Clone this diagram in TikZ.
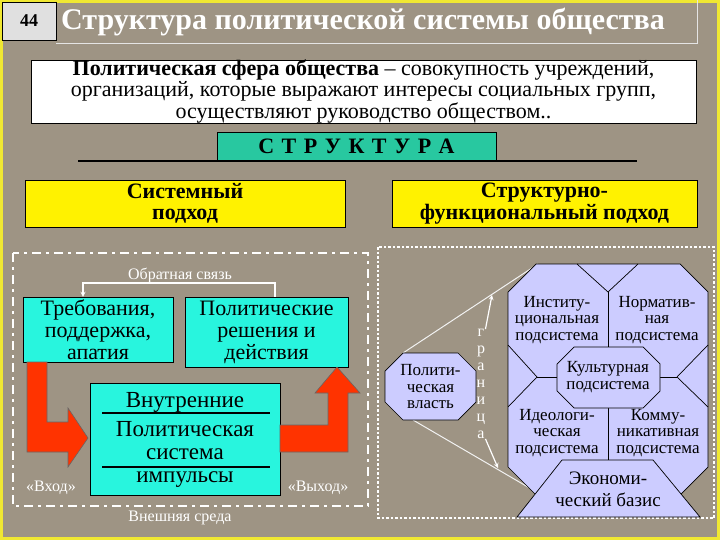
\documentclass[tikz,border=0pt]{standalone}
\usepackage{fontspec}
\setmainfont{Liberation Serif}
\usetikzlibrary{positioning}
\definecolor{granite}{RGB}{158,148,132}
\definecolor{frameyellow}{RGB}{240,232,50}
\definecolor{strteal}{RGB}{40,200,160}
\definecolor{aqua}{RGB}{40,245,222}
\definecolor{lav}{RGB}{204,204,255}
\definecolor{arrred}{RGB}{255,51,0}
\newcommand{\strsp}{\hspace{7.5pt}}
\begin{document}
\begin{tikzpicture}[x=1pt,y=-1pt,
  cbox/.style={draw=black,fill=aqua,inner sep=0pt,align=center,font=\fontsize{22}{22}\selectfont},
  ybox/.style={draw=black,fill=yellow,inner sep=0pt,align=center,font=\fontsize{22}{21.5}\selectfont\bfseries},
  ctext/.style={inner sep=0pt,font=\fontsize{23}{22}\selectfont},
  sub/.style={inner sep=0pt,align=center,font=\fontsize{17}{16.5}\selectfont},
  wtext/.style={text=white,inner sep=0pt,font=\fontsize{16}{16}\selectfont},
  wline/.style={white,line width=1.2pt},
  redarrow/.style={fill=arrred,draw=black!60,line width=.6pt},
  panel/.style={fill=lav,draw=black,line width=.7pt}]
\fill[granite] (0,0) rectangle (720,540);
\useasboundingbox (0,0) rectangle (720,540);
\draw[frameyellow,line width=6pt] (0,0) rectangle (720,540);
% title
\draw[white!80!gray,line width=.8pt] (56,43) -- (697,43) -- (697,0);
\node[draw=black,fill=black!12,minimum width=54pt,minimum height=38pt,inner sep=0pt,
  font=\fontsize{18}{18}\selectfont\bfseries] (num) at (29,21) {44};
\node[text=white,inner sep=0pt,font=\fontsize{30}{30}\selectfont\bfseries] (title) at (363,22)
  {Структура политической системы общества};
\node[draw=black,fill=white,minimum width=665pt,minimum height=63pt,inner sep=0pt,align=center,
  font=\fontsize{22}{19}\selectfont] (def) at (363.5,91.5)
  {\textbf{Политическая сфера общества} -- совокупность учреждений,\\
   организаций, которые выражают интересы социальных групп,\\
   осуществляют руководство обществом..};
\draw[line width=1.5pt] (78,161) -- (637,161);
\node[draw=black,fill=strteal,minimum width=279pt,minimum height=28pt,inner sep=0pt,
  font=\fontsize{22}{22}\selectfont\bfseries] (str) at (356.5,146)
  {С\strsp Т\strsp Р\strsp У\strsp К\strsp Т\strsp У\strsp Р\strsp А};
\node[ybox,minimum width=320pt,minimum height=47pt] (sys) at (185,203.5) {Системный\\подход};
\node[ybox,minimum width=305pt,minimum height=47pt] (sf) at (544.5,203.5) {Структурно-\\функциональный подход};
% system approach
\draw[white,line width=2pt,dash pattern=on 9pt off 5pt on 3pt off 5pt] (13,253) rectangle (368,506);
\node[cbox,minimum width=150pt,minimum height=65pt] (dem) at (98,329.5) {Требования,\\поддержка,\\апатия};
\node[cbox,minimum width=163pt,minimum height=70pt] (dec) at (266.5,332) {Политические\\решения и\\действия};
\node[cbox,minimum width=190pt,minimum height=112pt] (ps) at (185,439) {};
\node[ctext] (inner) at (185,402) {Внутренние};
\node[ctext] (pol) at (185,429) {Политическая};
\node[ctext] (sist) at (185,454) {система};
\node[ctext] (imp) at (185,480) {импульсы};
\foreach \y in {413,467}
\draw[line width=1.8pt] (102,\y) -- (270,\y);
\coordinate (fbr) at (275,283);
\coordinate (fbl) at (83,283);
\draw[wline,-stealth] (fbr |- dec.north) -- (fbr) -- (fbl) -- (fbl |- dem.north);
\node[wtext] (fb) at (180,275) {Обратная связь};
\draw[redarrow] (27,362) -- (47,362) -- (47,422) -- (68,422) -- (68,408) -- (88,438)
  -- (68,467) -- (68,452) -- (27,452) -- cycle;
\draw[redarrow] (280,425) -- (328,425) -- (328,393) -- (315,393) -- (337,367) -- (360,393)
  -- (348,393) -- (348,452) -- (280,452) -- cycle;
\node[wtext] (vhod) at (51,488) {«Вход»};
\node[wtext] (vyhod) at (318,488) {«Выход»};
\node[wtext] (sreda) at (180,518) {Внешняя среда};
% structural-functional approach
\draw[white,line width=2.5pt,dash pattern=on 2.5pt off 2pt] (378,247) rectangle (714,518);
\coordinate (pvtl) at (403,353);
\coordinate (pvbl) at (413,420);
\coordinate (bigtl) at (538,264);
\coordinate (bigbl) at (533,490);
\draw[white!90!gray,line width=1pt] (pvtl) -- (bigtl);
\draw[white!90!gray,line width=1pt] (pvbl) -- (bigbl);
\draw[panel] (385,371) -- (403,353) -- (458,353) -- (476,371) -- (476,402) -- (458,420)
  -- (403,420) -- (385,402) -- cycle;
\node[sub] (pv) at (430.5,387) {Полити-\\ческая\\власть};
\node[wtext,align=center,font=\fontsize{16}{17}\selectfont] (gr) at (481,384) {г\\р\\а\\н\\и\\ц\\а};
\coordinate (grtop) at (492,295);
\coordinate (grbot) at (498,468);
\draw[wline,-stealth] (gr.north east) -- (grtop);
\draw[wline,-stealth] (gr.south east) -- (grbot);
\draw[panel] (508,292) -- (536,264) -- (680,264) -- (708,292) -- (708,467) -- (680,495)
  -- (536,495) -- (508,467) -- cycle;
\draw[line width=.7pt] (577,264) -- (608,292) -- (638,264);
\draw[line width=.7pt] (608,292) -- (608,347);
\draw[line width=.7pt] (508,345) -- (537,377) -- (508,407);
\draw[line width=.7pt] (537,377) -- (557,377);
\draw[line width=.7pt] (708,345) -- (677,377) -- (708,407);
\draw[line width=.7pt] (660,377) -- (677,377);
\draw[line width=.7pt] (608,408) -- (608,460);
\draw[panel] (557,364) -- (574,347) -- (643,347) -- (660,364) -- (660,391) -- (643,408)
  -- (574,408) -- (557,391) -- cycle;
\draw[panel] (562,460) -- (653,460) -- (700,517) -- (517,517) -- cycle;
\node[sub] (inst) at (557,320) {Институ-\\циональная\\подсистема};
\node[sub] (norm) at (657,320) {Норматив-\\ная\\подсистема};
\node[sub] (cult) at (608,377) {Культурная\\подсистема};
\node[sub] (ideo) at (557,433) {Идеологи-\\ческая\\подсистема};
\node[sub] (komm) at (658,433) {Комму-\\никативная\\подсистема};
\node[sub,font=\fontsize{19}{22}\selectfont] (econ) at (608,489) {Экономи-\\ческий базис};
\end{tikzpicture}
\end{document}
